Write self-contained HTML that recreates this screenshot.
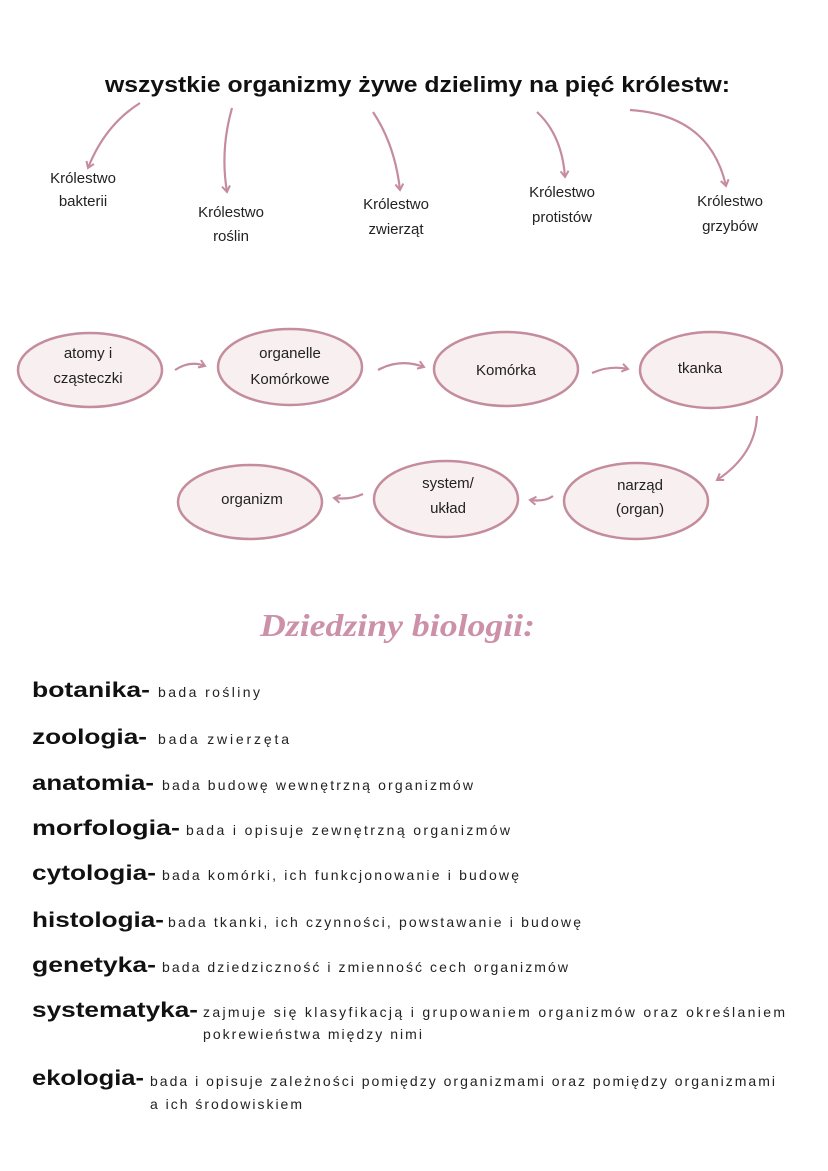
<!DOCTYPE html>
<html><head><meta charset="utf-8"><style>
html,body{margin:0;padding:0;background:#fff;width:828px;height:1171px;overflow:hidden}
svg{display:block}
.h{font-family:"Liberation Sans",sans-serif;font-weight:bold;fill:#111}
.s{font-family:"Liberation Sans",sans-serif;fill:#222;font-size:14px}
.n{font-family:"Liberation Sans",sans-serif;fill:#222;font-size:15px;text-anchor:middle}
</style></head><body>
<svg width="828" height="1171" viewBox="0 0 828 1171">
<defs><marker id="a" markerWidth="10" markerHeight="10" refX="7" refY="5" orient="auto" markerUnits="userSpaceOnUse"><path d="M1,1 L7,5 L1,9" fill="none" stroke="#c48c9c" stroke-width="2"/></marker></defs>
<text class="h" x="105" y="92" font-size="22" textLength="625" lengthAdjust="spacingAndGlyphs">wszystkie organizmy żywe dzielimy na pięć królestw:</text>
<g fill="none" stroke="#c48c9c" stroke-width="2.2" marker-end="url(#a)">
<path d="M140,103 Q105,125 88,168"/>
<path d="M232,108 Q220,150 227,192"/>
<path d="M373,112 Q395,145 400,190"/>
<path d="M537,112 Q562,135 565,177"/>
<path d="M630,110 Q710,115 726,186"/>
</g>
<g class="n">
<text x="83" y="183">Królestwo</text><text x="83" y="206">bakterii</text>
<text x="231" y="217">Królestwo</text><text x="231" y="241">roślin</text>
<text x="396" y="209">Królestwo</text><text x="396" y="234">zwierząt</text>
<text x="562" y="197">Królestwo</text><text x="562" y="222">protistów</text>
<text x="730" y="206">Królestwo</text><text x="730" y="231">grzybów</text>
</g>
<g fill="#f8eff1" stroke="#c48c9c" stroke-width="2.5">
<ellipse cx="90" cy="370" rx="72" ry="37"/>
<ellipse cx="290" cy="367" rx="72" ry="38"/>
<ellipse cx="506" cy="369" rx="72" ry="37"/>
<ellipse cx="711" cy="370" rx="71" ry="38"/>
<ellipse cx="636" cy="501" rx="72" ry="38"/>
<ellipse cx="446" cy="499" rx="72" ry="38"/>
<ellipse cx="250" cy="502" rx="72" ry="37"/>
</g>
<g fill="none" stroke="#c48c9c" stroke-width="2.2" marker-end="url(#a)">
<path d="M175,370 Q190,360 205,366"/>
<path d="M378,370 Q400,358 424,367"/>
<path d="M592,373 Q610,365 628,369"/>
<path d="M757,416 Q755,455 717,480"/>
<path d="M553,496 Q545,502 530,500"/>
<path d="M363,494 Q350,500 334,498"/>
</g>
<g class="n">
<text x="88" y="358">atomy i</text><text x="88" y="383">cząsteczki</text>
<text x="290" y="358">organelle</text><text x="290" y="384">Komórkowe</text>
<text x="506" y="375">Komórka</text>
<text x="700" y="373">tkanka</text>
<text x="640" y="490">narząd</text><text x="640" y="514">(organ)</text>
<text x="448" y="488">system/</text><text x="448" y="513">układ</text>
<text x="252" y="504">organizm</text>
</g>
<text x="260" y="636" font-family="Liberation Serif,serif" font-style="italic" font-weight="bold" font-size="32" fill="#cc90a8" textLength="275" lengthAdjust="spacingAndGlyphs">Dziedziny biologii:</text>
<g class="h" font-size="21">
<text x="32" y="697" textLength="118" lengthAdjust="spacingAndGlyphs">botanika-</text>
<text x="32" y="744" textLength="115" lengthAdjust="spacingAndGlyphs">zoologia-</text>
<text x="32" y="790" textLength="122" lengthAdjust="spacingAndGlyphs">anatomia-</text>
<text x="32" y="835" textLength="148" lengthAdjust="spacingAndGlyphs">morfologia-</text>
<text x="32" y="880" textLength="124" lengthAdjust="spacingAndGlyphs">cytologia-</text>
<text x="32" y="927" textLength="132" lengthAdjust="spacingAndGlyphs">histologia-</text>
<text x="32" y="972" textLength="124" lengthAdjust="spacingAndGlyphs">genetyka-</text>
<text x="32" y="1017" textLength="166" lengthAdjust="spacingAndGlyphs">systematyka-</text>
<text x="32" y="1085" textLength="112" lengthAdjust="spacingAndGlyphs">ekologia-</text>
</g>
<g class="s">
<text x="158" y="697" textLength="102">bada rośliny</text>
<text x="158" y="744" textLength="131">bada zwierzęta</text>
<text x="162" y="790" textLength="311">bada budowę wewnętrzną organizmów</text>
<text x="186" y="835" textLength="324">bada i opisuje zewnętrzną organizmów</text>
<text x="162" y="880" textLength="357">bada komórki, ich funkcjonowanie i budowę</text>
<text x="168" y="927" textLength="413">bada tkanki, ich czynności, powstawanie i budowę</text>
<text x="162" y="972" textLength="406">bada dziedziczność i zmienność cech organizmów</text>
<text x="203" y="1017" textLength="582">zajmuje się klasyfikacją i grupowaniem organizmów oraz określaniem</text>
<text x="203" y="1039" textLength="219">pokrewieństwa między nimi</text>
<text x="150" y="1086" textLength="625">bada i opisuje zależności pomiędzy organizmami oraz pomiędzy organizmami</text>
<text x="150" y="1109" textLength="152">a ich środowiskiem</text>
</g>
</svg>
</body></html>
